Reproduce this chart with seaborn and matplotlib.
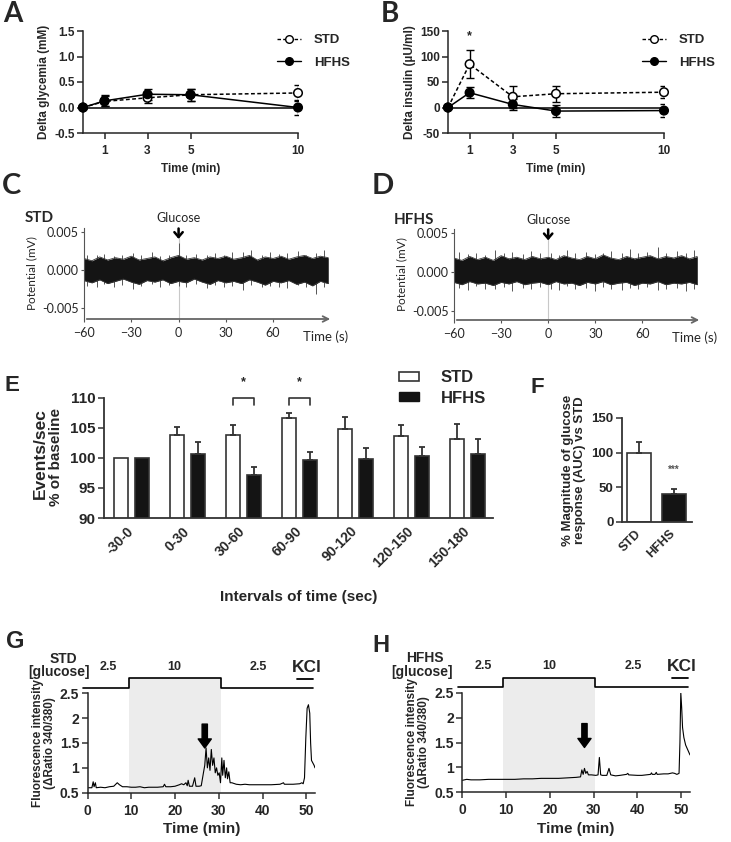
import matplotlib
matplotlib.use('Agg')
import matplotlib.pyplot as plt
import seaborn as sns
import pandas as pd
from matplotlib.lines import Line2D
from matplotlib.patches import Patch

# ---------- A / B : tolérance au glucose
temps_min = [0, 1, 3, 5, 10]
glyc_std = [0.0, 0.12, 0.19, 0.25, 0.285]
glyc_std_err = [0.0, 0.10, 0.10, 0.12, 0.15]
glyc_hfhs = [0.0, 0.13, 0.26, 0.25, 0.0]
glyc_hfhs_err = [0.0, 0.11, 0.11, 0.12, 0.14]

ins_std = [0, 85, 21, 27, 30]
ins_std_err = [0, 27, 22, 16, 12]
ins_hfhs = [0, 29, 6, -7, -6]
ins_hfhs_err = [0, 11, 10, 12, 12]

# ---------- C / D : potentiel (enveloppe du tracé, x 1e-3 mV)
temps_env = [-60, -55, -50, -45, -40, -35, -30, -25, -20, -15, -10, -5, 0, 5, 10, 15,
             20, 25, 30, 35, 40, 45, 50, 55, 60, 65, 70, 75, 80, 85, 90, 95]
env_std_haut = [1.5, 1.2, 1.7, 1.3, 1.6, 1.4, 1.8, 1.3, 1.5, 1.7, 1.2, 1.6, 1.9, 1.4, 1.6, 1.3,
                1.7, 1.5, 1.8, 1.4, 1.6, 1.9, 1.3, 1.7, 1.5, 1.8, 1.4, 1.7, 1.9, 1.5, 1.8, 1.6]
env_std_bas = [-1.4, -1.7, -1.3, -1.8, -1.5, -1.2, -1.6, -1.9, -1.4, -1.6, -1.3, -1.8, -1.5, -1.7, -1.2, -1.6,
               -1.9, -1.4, -1.7, -1.5, -1.8, -1.3, -1.6, -2.0, -1.5, -1.7, -1.4, -1.9, -1.6, -2.1, -1.5, -1.8]
pics_std_t = [-58, -52, -47, -41, -36, -29, -24, -17, -12, -6, 0, 5, 11, 18, 23, 29, 34,
              41, 46, 53, 58, 64, 69, 76, 81, 87, 92]
pics_std_haut = [2.0, 1.9, 2.1, 1.8, 2.0, 2.2, 1.9, 2.3, 1.8, 2.0, 3.5, 1.9, 2.1, 2.0, 2.2, 1.9, 2.3,
                 2.4, 2.6, 2.0, 2.3, 2.1, 2.2, 2.5, 2.0, 2.2, 2.6]
pics_std_bas = [-2.1, -2.3, -1.9, -2.2, -2.0, -2.5, -2.1, -1.9, -2.2, -2.0, -2.1, -2.3, -1.9, -2.4, -2.0, -2.2, -2.1,
                -2.6, -2.0, -2.3, -2.1, -2.2, -2.4, -2.0, -2.3, -3.2, -2.2]

env_hfhs_haut = [1.8, 1.5, 2.0, 1.6, 1.9, 1.5, 2.1, 1.7, 1.9, 1.6, 2.0, 1.7, 1.9, 1.6, 2.1, 1.8,
                 1.6, 2.0, 1.7, 2.2, 1.8, 1.6, 2.0, 1.7, 1.9, 2.1, 1.7, 2.0, 1.8, 2.1, 1.7, 2.0]
env_hfhs_bas = [-1.3, -1.6, -1.2, -1.5, -1.4, -1.7, -1.3, -1.5, -1.2, -1.6, -1.4, -1.3, -1.6, -1.2, -1.5, -1.4,
                -1.7, -1.3, -1.5, -1.2, -1.6, -1.4, -1.3, -1.7, -1.4, -1.5, -1.2, -1.6, -1.4, -1.5, -1.3, -1.6]
pics_hfhs_t = [-57, -51, -46, -40, -34, -28, -23, -16, -11, -5, 2, 7, 12, 17, 24, 30, 35,
               40, 47, 52, 57, 63, 70, 75, 82, 88, 93]
pics_hfhs_haut = [2.6, 2.3, 2.5, 2.2, 2.8, 2.4, 2.6, 2.3, 2.7, 2.4, 2.5, 2.2, 2.8, 2.4, 2.6, 2.3, 2.5,
                  2.7, 2.4, 2.9, 2.5, 2.6, 3.2, 2.4, 2.7, 2.5, 2.8]
pics_hfhs_bas = [-2.0, -2.3, -1.8, -2.2, -2.1, -1.9, -2.4, -2.0, -2.2, -1.9, -2.1, -2.3, -1.8, -2.2, -2.0, -2.4, -1.9,
                 -2.1, -2.3, -2.0, -2.2, -1.9, -2.3, -2.1, -2.0, -2.4, -2.1]

# ---------- E : événements / s
intervalles = ['-30-0', '0-30', '30-60', '60-90', '90-120', '120-150', '150-180']
ev_std = [100.0, 103.9, 103.8, 106.7, 104.9, 103.7, 103.2]
ev_std_err = [0.0, 1.3, 1.7, 0.8, 1.9, 1.8, 2.4]
ev_hfhs = [100.0, 100.6, 97.2, 99.6, 99.8, 100.4, 100.6]
ev_hfhs_err = [0.0, 2.0, 1.3, 1.4, 1.8, 1.4, 2.6]
groupes_sig = [2, 3]

# ---------- F : AUC
groupes = ['STD', 'HFHS']
auc = [100, 40]
auc_err = [15, 7]

# ---------- G / H : calcium
prot_bornes = [-1, 9.4, 30.4, 51.6]
prot_glucose = ['2.5', '10', '2.5']
kcl_debut, kcl_fin = 47.8, 51.6

ca_std_t = [0, 1, 1.3, 1.5, 1.8, 2.0, 3, 4, 5, 6, 6.8, 7.3, 8, 9, 10, 11, 12, 13, 14, 15, 16,
            17.3, 17.6, 17.9, 19, 20, 21, 21.5, 22, 22.5, 22.8, 23, 23.3, 24, 24.5, 24.8, 25.5, 26,
            26.5, 26.8, 27.1, 27.4, 27.7, 28, 28.3, 28.6, 28.9, 29.2, 29.5, 29.8, 30.1, 30.4, 30.7,
            30.9, 31.2, 31.5, 31.8, 32, 32.3, 32.6, 33, 34, 35, 36, 37, 38, 40, 42, 44, 44.8, 45,
            47, 48.5, 49, 49.3, 49.6, 49.9, 50.2, 50.5, 50.8, 51, 51.2, 51.5, 51.8, 52]
ca_std = [0.6, 0.6, 0.72, 0.62, 0.7, 0.6, 0.61, 0.6, 0.62, 0.63, 0.7, 0.66, 0.62, 0.62, 0.61, 0.61, 0.62, 0.6, 0.61, 0.61, 0.61,
          0.62, 0.67, 0.62, 0.62, 0.63, 0.66, 0.68, 0.66, 0.7, 0.64, 0.75, 0.63, 0.63, 0.8, 0.63, 0.63, 0.64,
          0.9, 1.05, 1.4, 1.0, 1.2, 0.95, 1.37, 1.05, 1.2, 0.9, 1.0, 0.85, 0.9, 0.7, 1.2,
          0.85, 1.15, 0.8, 1.0, 0.78, 0.92, 0.7, 0.7, 0.67, 0.66, 0.67, 0.66, 0.66, 0.66, 0.66, 0.67, 0.7, 0.67,
          0.67, 0.68, 0.7, 0.68, 0.8, 1.6, 2.2, 2.27, 2.1, 1.5, 1.15, 1.1, 1.05, 1.0]

ca_hfhs_t = [0, 1, 2, 4, 6, 8, 10, 12, 14, 16, 18, 20, 22, 24, 26, 27, 27.3, 27.6, 27.9, 28.2, 28.5,
             28.8, 29.5, 30.5, 31, 31.3, 31.6, 32, 33, 33.5, 33.9, 35, 36, 37.5, 37.8, 38, 40, 41, 42, 43,
             43.2, 43.4, 44, 44.3, 44.5, 46, 47, 48, 48.5, 49, 49.5, 49.7, 49.9, 50.1, 50.3, 50.6, 51, 51.5, 52]
ca_hfhs = [0.74, 0.76, 0.75, 0.75, 0.76, 0.76, 0.76, 0.76, 0.77, 0.77, 0.78, 0.78, 0.78, 0.79, 0.8, 0.81, 0.95, 0.86, 0.98, 0.88, 0.92,
           0.85, 0.85, 0.84, 0.85, 1.2, 0.85, 0.84, 0.84, 0.98, 0.85, 0.83, 0.84, 0.86, 0.88, 0.85, 0.84, 0.84, 0.85, 0.86,
           0.89, 0.86, 0.86, 0.9, 0.86, 0.87, 0.87, 0.89, 0.88, 0.86, 0.88, 1.5, 2.5, 2.2, 1.8, 1.6, 1.45, 1.35, 1.25]

W, H = 731, 842
sns.set_style('ticks')
plt.rcParams['font.family'] = ['Liberation Sans', 'DejaVu Sans']
plt.rcParams['font.weight'] = 'bold'
plt.rcParams['axes.labelweight'] = 'bold'
plt.rcParams['axes.linewidth'] = 1.1
plt.rcParams['xtick.major.width'] = 1.1
plt.rcParams['ytick.major.width'] = 1.1

fig = plt.figure(figsize=(W / 100, H / 100), dpi=100)


def axes_px(gauche, haut, droite, bas):
    return fig.add_axes([gauche / W, 1 - bas / H, (droite - gauche) / W, (bas - haut) / H])


def lettre(x, y, s, taille, famille='Liberation Sans'):
    fig.text(x / W, 1 - y / H, s, fontsize=taille, fontweight='bold', family=famille, va='baseline')


def panel_tolerance(ax, std, std_err, hfhs, hfhs_err, ylim, yticks, yticklabels, ylabel, leg_x):
    df = pd.DataFrame({'Time': temps_min + temps_min,
                       'valeur': std + hfhs,
                       'groupe': ['STD'] * len(temps_min) + ['HFHS'] * len(temps_min)})
    ax.axhline(0, color='black', lw=1.1, zorder=1)
    sns.lineplot(data=df, x='Time', y='valeur', hue='groupe', style='groupe',
                 palette={'STD': 'black', 'HFHS': 'black'},
                 dashes={'STD': (2.5, 1.6), 'HFHS': ''}, lw=1.1, legend=False, ax=ax, zorder=2)
    ax.errorbar(temps_min, std, yerr=std_err, fmt='none', ecolor='black', elinewidth=1, capsize=3, zorder=3)
    ax.errorbar(temps_min, hfhs, yerr=hfhs_err, fmt='none', ecolor='black', elinewidth=1, capsize=3, zorder=3)
    sns.scatterplot(data=df, x='Time', y='valeur', hue='groupe',
                    palette={'STD': 'white', 'HFHS': 'black'}, edgecolor='black', linewidth=1.1,
                    s=38, legend=False, ax=ax, zorder=4, clip_on=False)
    ax.set_xlim(0, 10)
    ax.set_ylim(*ylim)
    ax.set_xticks([1, 3, 5, 10])
    ax.set_yticks(yticks)
    ax.set_yticklabels(yticklabels)
    ax.tick_params(labelsize=8.5, length=4, pad=2)
    ax.tick_params(axis='x', pad=5)
    ax.set_xlabel('Time (min)', fontsize=8.5, labelpad=4)
    ax.set_ylabel(ylabel, fontsize=8.5, labelpad=3)
    sns.despine(ax=ax)
    poignees = [Line2D([], [], color='black', lw=1, ls=(0, (2.5, 1.6)), marker='o', mfc='white', mec='black', ms=5.5),
                Line2D([], [], color='black', lw=1, ls='-', marker='o', mfc='black', mec='black', ms=5.5)]
    ax.legend(poignees, ['STD', 'HFHS'], loc='upper left', bbox_to_anchor=(leg_x / W, 1 - 34 / H),
              bbox_transform=fig.transFigure, frameon=False, prop={'weight': 'bold', 'size': 9.5},
              handlelength=1.8, handletextpad=1.0, labelspacing=0.8, borderpad=0, borderaxespad=0)


# ---------- A
ax_a = axes_px(83, 31, 298, 133)
panel_tolerance(ax_a, glyc_std, glyc_std_err, glyc_hfhs, glyc_hfhs_err, (-0.5, 1.5),
                [-0.5, 0, 0.5, 1.0, 1.5], ['-0.5', '0.0', '0.5', '1.0', '1.5'], 'Delta glycemia (mM)', 277)
lettre(3, 22, 'A', 20, 'Lato')

# ---------- B
ax_b = axes_px(448, 31, 664, 133)
panel_tolerance(ax_b, ins_std, ins_std_err, ins_hfhs, ins_hfhs_err, (-50, 150),
                [-50, 0, 50, 100, 150], ['-50', '0', '50', '100', '150'], 'Delta insulin (µU/ml)', 642)
ax_b.text(1, 140, '*', ha='center', va='center', fontsize=9)
lettre(381, 22, 'B', 20, 'Lato')


def panel_potentiel(ax, haut, bas, p_t, p_haut, p_bas, nom, ylim, x0_px, y_nom, y_glu):
    t = temps_env
    haut_mv = [v / 1000 for v in haut]
    bas_mv = [v / 1000 for v in bas]
    ax.axvline(0, color='#c8c8c8', lw=0.8, zorder=0)
    ax.vlines(p_t, [v / 1000 for v in p_bas], [v / 1000 for v in p_haut], color='#555', lw=0.7, zorder=1)
    ax.fill_between(t, bas_mv, haut_mv, color='#141414', lw=0, zorder=2)
    sns.lineplot(x=t, y=haut_mv, ax=ax, color='#3a3a3a', lw=0.6, zorder=2)
    sns.lineplot(x=t, y=bas_mv, ax=ax, color='#3a3a3a', lw=0.6, zorder=2)
    ax.set_xlim(-60, 98)
    ax.set_ylim(*ylim)
    ax.set_xticks([-60, -30, 0, 30, 60])
    ax.set_yticks([-0.005, 0, 0.005])
    ax.set_yticklabels(['-0.005', '0.000', '0.005'])
    for lab in ax.get_xticklabels() + ax.get_yticklabels():
        lab.set_family('Lato')
        lab.set_fontweight('normal')
    ax.tick_params(labelsize=9, length=2, width=0.8, color='#555', pad=2)
    ax.tick_params(axis='x', pad=4)
    for cote in ['top', 'right', 'bottom']:
        ax.spines[cote].set_visible(False)
    ax.spines['left'].set_linewidth(0.8)
    ax.spines['left'].set_color('#555')
    ax.annotate('', xy=(1.0, 0), xytext=(0, 0), xycoords='axes fraction',
                arrowprops=dict(arrowstyle='->', lw=1.3, color='#666'), annotation_clip=False)
    ax.set_ylabel('Potential (mV)', family='Lato', fontweight='normal', fontsize=8.5, labelpad=3)
    ax.text(0.97, -0.2, 'Time (s)', transform=ax.transAxes, family='Lato', fontweight='normal',
            fontsize=9.5, ha='center', va='center')
    fig.text(x0_px / W, 1 - y_nom / H, nom, family='Lato', fontweight='bold', fontsize=11)
    ax.annotate('', xy=(0, 0.0037), xytext=(0, 0.0058), annotation_clip=False,
                arrowprops=dict(arrowstyle='->, head_width=0.3, head_length=0.35', lw=1.8, color='black'))
    ax.text(0, y_glu, 'Glucose', family='Lato', fontweight='normal', fontsize=9, ha='center', va='baseline')
    sns.despine(ax=ax, bottom=True)


# ---------- C
ax_c = axes_px(84, 228, 333, 319)
panel_potentiel(ax_c, env_std_haut, env_std_bas, pics_std_t, pics_std_haut, pics_std_bas,
                'STD', (-0.00645, 0.0055), 25, 222, 0.0063)
lettre(2, 194, 'C', 21, 'Lato')

# ---------- D
ax_d = axes_px(454, 229, 702, 320)
panel_potentiel(ax_d, env_hfhs_haut, env_hfhs_bas, pics_hfhs_t, pics_hfhs_haut, pics_hfhs_bas,
                'HFHS', (-0.0061, 0.0055), 394, 224, 0.0061)
lettre(372, 194, 'D', 21, 'Lato')

# ---------- E
ax_e = axes_px(104, 398, 493, 518)
df_e = pd.DataFrame({'intervalle': intervalles * 2,
                     'valeur': ev_std + ev_hfhs,
                     'groupe': ['STD'] * len(intervalles) + ['HFHS'] * len(intervalles)})
sns.barplot(data=df_e, x='intervalle', y='valeur', hue='groupe', hue_order=['STD', 'HFHS'],
            palette={'STD': 'white', 'HFHS': '#141414'}, edgecolor='#333333', linewidth=1.2,
            width=0.75, gap=1 / 3, errorbar=None, legend=False, ax=ax_e)
for conteneur, erreurs in zip(ax_e.containers, [ev_std_err, ev_hfhs_err]):
    for barre, err in zip(conteneur, erreurs):
        if err > 0:
            xc = barre.get_x() + barre.get_width() / 2
            ax_e.errorbar(xc, barre.get_height(), yerr=[[0], [err]], fmt='none', ecolor='#333',
                          elinewidth=1.3, capsize=2.2, capthick=1.3)
for g in groupes_sig:
    ax_e.plot([g - 0.1875, g - 0.1875, g + 0.1875, g + 0.1875], [108.8, 110, 110, 108.8],
              color='#333', lw=1.2, clip_on=False)
    ax_e.text(g, 112.6, '*', ha='center', va='center', fontsize=9)
ax_e.set_ylim(90, 110)
ax_e.set_xlim(-0.49, 6.46)
ax_e.set_yticks([90, 95, 100, 105, 110])
ax_e.set_xticks(range(len(intervalles)))
ax_e.set_xticklabels(intervalles, rotation=45, ha='right', va='center', rotation_mode='anchor')
ax_e.tick_params(axis='y', labelsize=11, length=4, pad=2, color='#333')
ax_e.tick_params(axis='x', labelsize=10, length=0, pad=8)
for cote in ['left', 'bottom']:
    ax_e.spines[cote].set_color('#333')
    ax_e.spines[cote].set_linewidth(1.3)
sns.despine(ax=ax_e)
ax_e.set_xlabel('Intervals of time (sec)', fontsize=11, labelpad=14)
ax_e.set_ylabel('')
fig.text(40 / W, 1 - 454 / H, 'Events/sec', rotation=90, fontsize=12.5, fontweight='bold', ha='center', va='center')
fig.text(56 / W, 1 - 457 / H, '% of baseline', rotation=90, fontsize=11, fontweight='bold', ha='center', va='center')
fig.legend([Patch(facecolor='white', edgecolor='#333', lw=1.2), Patch(facecolor='#141414', edgecolor='#141414')],
           ['STD', 'HFHS'], loc='upper left', bbox_to_anchor=(399 / W, 1 - 370 / H), frameon=False,
           prop={'weight': 'bold', 'size': 12}, handlelength=1.2, handleheight=0.45, handletextpad=1.3,
           labelspacing=0.35, borderpad=0, borderaxespad=0)
lettre(5, 391, 'E', 16)

# ---------- F
ax_f = axes_px(622, 418, 692, 522)
sns.barplot(x=groupes, y=auc, hue=groupes, palette={'STD': 'white', 'HFHS': '#141414'},
            edgecolor='#333333', linewidth=1.2, width=0.7, legend=False, ax=ax_f)
for conteneur, err in zip(ax_f.containers, auc_err):
    for barre in conteneur:
        xc = barre.get_x() + barre.get_width() / 2
        ax_f.errorbar(xc, barre.get_height(), yerr=[[0], [err]], fmt='none', ecolor='#333',
                      elinewidth=1.3, capsize=2.5, capthick=1.3)
ax_f.text(1, 75, '***', ha='center', va='center', fontsize=7, color='#555')
ax_f.set_ylim(0, 150)
ax_f.set_xlim(-0.51, 1.54)
ax_f.set_yticks([0, 50, 100, 150])
ax_f.set_xticks([0, 1])
ax_f.set_xticklabels(groupes, rotation=45, ha='right', va='center', rotation_mode='anchor')
ax_f.tick_params(axis='y', labelsize=9.5, length=4, pad=2, color='#333')
ax_f.tick_params(axis='x', labelsize=9, length=0, pad=7)
for cote in ['left', 'bottom']:
    ax_f.spines[cote].set_color('#333')
    ax_f.spines[cote].set_linewidth(1.3)
sns.despine(ax=ax_f)
ax_f.set_ylabel('% Magnitude of glucose\nresponse (AUC) vs STD', fontsize=9.5, labelpad=4, linespacing=1.0)
lettre(530, 393, 'F', 16)


def panel_calcium(ax, t, v, fleche_t, nom, x_nom, x_glu):
    ax.axvspan(prot_bornes[1], prot_bornes[2], ymin=0, ymax=1.15, color='#ececec', lw=0,
               zorder=0, clip_on=False)
    sns.lineplot(x=t, y=v, ax=ax, color='black', lw=0.8, zorder=2)
    hauteurs = [2.61 if g == '2.5' else 2.8 for g in prot_glucose]
    ax.step(prot_bornes, hauteurs + [hauteurs[-1]], where='post', color='black', lw=1.2, clip_on=False)
    ax.plot([kcl_debut, kcl_fin], [2.79, 2.79], color='black', lw=1.3, clip_on=False)
    milieux = [(prot_bornes[0] + prot_bornes[1]) / 2 + 0.6, (prot_bornes[1] + prot_bornes[2]) / 2,
               (prot_bornes[2] + kcl_debut) / 2]
    for xm, g in zip(milieux, prot_glucose):
        ax.text(xm, 2.97, g, ha='center', va='baseline', fontsize=9, fontweight='bold')
    ax.text((kcl_debut + kcl_fin) / 2 + 0.5, 2.93, 'KCl', ha='center', va='baseline', fontsize=12.5, fontweight='bold')
    ax.text(x_nom, 3.11, nom, ha='center', va='baseline', fontsize=10, fontweight='bold')
    ax.text(x_glu, 2.84, '[glucose]', ha='center', va='baseline', fontsize=10, fontweight='bold')
    ax.annotate('', xy=(fleche_t, 1.4), xytext=(fleche_t, 1.88),
                arrowprops=dict(arrowstyle='simple, head_width=0.95, head_length=0.65, tail_width=0.38',
                                color='black', mutation_scale=10, shrinkA=0, shrinkB=0))
    ax.set_xlim(0, 52)
    ax.set_ylim(0.5, 2.5)
    ax.set_xticks([0, 10, 20, 30, 40, 50])
    ax.set_yticks([0.5, 1, 1.5, 2, 2.5])
    ax.set_yticklabels(['0.5', '1', '1.5', '2', '2.5'])
    ax.tick_params(labelsize=10, length=4, pad=2, color='#333')
    ax.tick_params(axis='x', pad=4)
    sns.despine(ax=ax)
    ax.set_xlabel('Time (min)', fontsize=11, labelpad=3)
    ax.set_ylabel('Fluorescence intensity\n(ΔRatio 340/380)', fontsize=8.5, labelpad=3, linespacing=1.0)


# ---------- G
ax_g = axes_px(87.5, 693.3, 315, 792.7)
panel_calcium(ax_g, ca_std_t, ca_std, 26.8, 'STD', -5.5, -6.5)
lettre(6, 648, 'G', 17)

# ---------- H
ax_h = axes_px(462.3, 692.7, 690, 792.3)
panel_calcium(ax_h, ca_hfhs_t, ca_hfhs, 27.9, 'HFHS', -8.6, -9.1)
lettre(372, 652, 'H', 17)

fig.savefig('out.png', dpi=100)
